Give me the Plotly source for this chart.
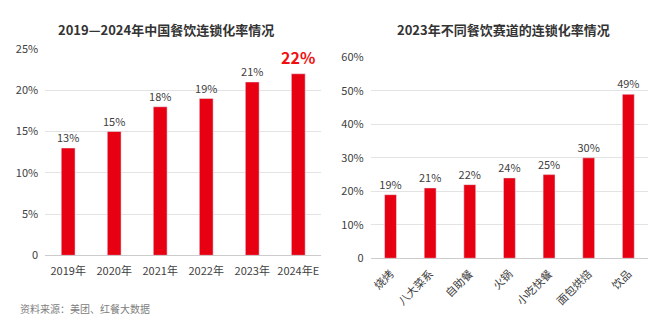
import plotly.graph_objects as go

years = ["2019年", "2020年", "2021年", "2022年", "2023年", "2024年E"]
rate_year = [13, 15, 18, 19, 21, 22]
year_labels = ["13%", "15%", "18%", "19%", "21%", "22%"]

tracks = ["烧烤", "八大菜系", "自助餐", "火锅", "小吃快餐", "面包烘焙", "饮品"]
rate_track = [19, 21, 22, 24, 25, 30, 49]
track_labels = ["19%", "21%", "22%", "24%", "25%", "30%", "49%"]

left_ticks = [0, 5, 10, 15, 20, 25]
left_ticktext = ["0", "5%", "10%", "15%", "20%", "25%"]
right_ticks = [0, 10, 20, 30, 40, 50, 60]
right_ticktext = ["0", "10%", "20%", "30%", "40%", "50%", "60%"]

RED = "#E60012"
TXT = "#404040"
FONT = "Noto Sans CJK SC"

fig = go.Figure()

fig.add_trace(go.Bar(
    x=years, y=rate_year, marker_color=RED, width=0.3,
    text=year_labels[:-1] + [""], textposition="outside", constraintext="none",
    textfont=dict(size=11, color=TXT, family=FONT),
    cliponaxis=False, xaxis="x", yaxis="y", showlegend=False,
))
fig.add_annotation(x=years[-1], y=rate_year[-1], text="<b>22%</b>", xref="x", yref="y",
                   showarrow=False, yanchor="bottom", yshift=3,
                   font=dict(size=16, color="#F01010", family=FONT))

fig.add_trace(go.Bar(
    x=tracks, y=rate_track, marker_color=RED, width=0.3,
    text=track_labels, textposition="outside", constraintext="none",
    textfont=dict(size=11, color=TXT, family=FONT),
    cliponaxis=False, xaxis="x2", yaxis="y2", showlegend=False,
))

axis_common = dict(showline=False, zeroline=False, ticks="")
fig.update_layout(
    width=660, height=326,
    margin=dict(l=0, r=0, t=0, b=0),
    paper_bgcolor="white", plot_bgcolor="white",
    font=dict(family=FONT, color=TXT, size=11),
    xaxis=dict(domain=[0.067, 0.486], anchor="y", showgrid=False,
               tickfont=dict(size=11, color=TXT), ticklabelstandoff=8, **axis_common),
    yaxis=dict(domain=[0.2055, 0.871], anchor="x", range=[0, 25],
               tickvals=left_ticks, ticktext=left_ticktext,
               gridcolor="#E3E3E3", gridwidth=1,
               tickfont=dict(size=11, color=TXT), ticklabelstandoff=6,
               showline=False, ticks=""),
    xaxis2=dict(domain=[0.561, 0.982], anchor="y2", showgrid=False,
                tickangle=-45, tickfont=dict(size=11, color=TXT),
                ticklabelstandoff=6, **axis_common),
    yaxis2=dict(domain=[0.196, 0.8436], anchor="x2", range=[0, 60],
                tickvals=right_ticks, ticktext=right_ticktext,
                gridcolor="#E3E3E3", gridwidth=1,
                tickfont=dict(size=11, color=TXT), ticklabelstandoff=6,
                showline=False, ticks=""),
)
fig.update_yaxes(zeroline=True, zerolinecolor="#CCCCCC", zerolinewidth=1)

fig.add_annotation(x=165 / 660, y=1 - 22 / 326, xref="paper", yref="paper",
                   text="<b>2019—2024年中国餐饮连锁化率情况</b>", showarrow=False,
                   font=dict(size=13, color="#333333", family=FONT),
                   xanchor="center", yanchor="middle")
fig.add_annotation(x=503 / 660, y=1 - 22 / 326, xref="paper", yref="paper",
                   text="<b>2023年不同餐饮赛道的连锁化率情况</b>", showarrow=False,
                   font=dict(size=13, color="#333333", family=FONT),
                   xanchor="center", yanchor="middle")
fig.add_annotation(x=17 / 660, y=1 - 315 / 326, xref="paper", yref="paper",
                   text="资料来源：美团、红餐大数据", showarrow=False,
                   font=dict(size=10, color="#808080", family=FONT),
                   xanchor="left", yanchor="middle")

fig.write_html("out.html")
